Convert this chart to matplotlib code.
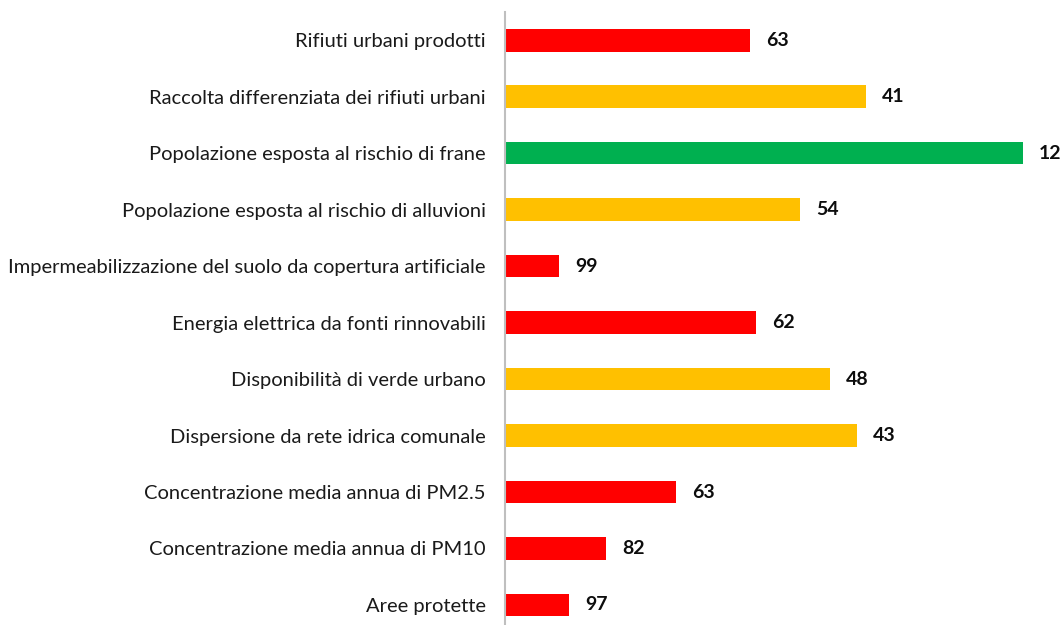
import matplotlib
matplotlib.use("Agg")
from matplotlib import pyplot as plt

# indicator names, top to bottom
labels = [
    "Rifiuti urbani prodotti",
    "Raccolta differenziata dei rifiuti urbani",
    "Popolazione esposta al rischio di frane",
    "Popolazione esposta al rischio di alluvioni",
    "Impermeabilizzazione del suolo da copertura artificiale",
    "Energia elettrica da fonti rinnovabili",
    "Disponibilità di verde urbano",
    "Dispersione da rete idrica comunale",
    "Concentrazione media annua di PM2.5",
    "Concentrazione media annua di PM10",
    "Aree protette",
]
# bar lengths (estimated score) and rank shown as label
scores = [244, 360, 517, 294, 53, 250, 324, 351, 170, 100, 63]
ranks = [63, 41, 12, 54, 99, 62, 48, 43, 63, 82, 97]
classes = ["red", "yellow", "green", "yellow", "red", "red",
           "yellow", "yellow", "red", "red", "red"]

palette = {"red": "#FF0000", "yellow": "#FFC000", "green": "#00B050"}

plt.rcParams["font.family"] = ["Lato", "DejaVu Sans"]

fig = plt.figure(figsize=(10.61, 6.25), dpi=100)
ax = fig.add_axes([505 / 1061, -0.0131, 1 - 505 / 1061, 0.9939])

ypos = list(range(len(labels)))
ax.barh(ypos, scores, height=0.4, color=[palette[c] for c in classes], left=1)

for y, s, r in zip(ypos, scores, ranks):
    ax.text(s + 17, y, str(r), va="center", ha="left",
            fontsize=14, fontweight="bold", color="#0d0d0d")

ax.set_xlim(0, 556)
ax.set_ylim(10.5, -0.5)
ax.set_yticks(ypos)
ax.set_yticklabels(labels, fontsize=14.5, color="#1a1a1a")
ax.tick_params(axis="y", length=0, pad=14)
ax.set_xticks([])

for side in ["top", "right", "bottom"]:
    ax.spines[side].set_visible(False)
ax.spines["left"].set_color("#BFBFBF")
ax.spines["left"].set_linewidth(1.5)

fig.savefig("out.png", dpi=100)
